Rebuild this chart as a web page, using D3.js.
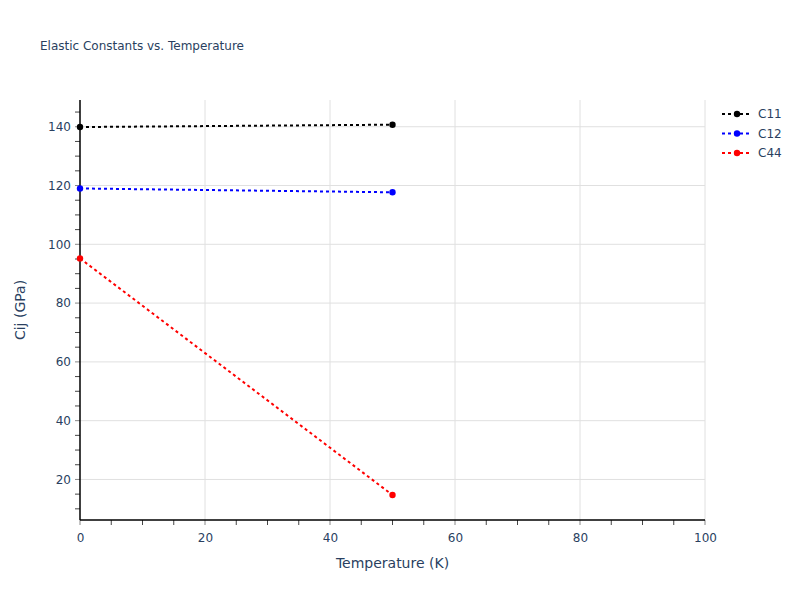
<!DOCTYPE html>
<html><head><meta charset="utf-8">
<script src="https://cdn.jsdelivr.net/npm/d3@7"></script>
<style>body{margin:0;background:#fff;}svg{font-family:"DejaVu Sans",Verdana,sans-serif;}</style>
</head><body><svg id="c" width="800" height="600"></svg>
<script>
const temperatures = [0, 50];
const seriesNames = ["C11", "C12", "C44"];
const c11 = [139.9, 140.7];
const c12 = [119.0, 117.7];
const c44 = [95.2, 14.7];
const seriesColors = ["#000000", "#0000ff", "#ff0000"];
const xTicks = [0, 20, 40, 60, 80, 100];
const yTicks = [20, 40, 60, 80, 100, 120, 140];

const svg = d3.select("#c");
const L = 80, R = 705, T = 100, B = 520;
const x = d3.scaleLinear().domain([0, 100]).range([L, R]);
const y = d3.scaleLinear().domain([6.2, 149.1]).range([B, T]);
const textCol = "#2a3f5f";

// grid
svg.append("g").selectAll("line").data(xTicks.slice(1)).join("line")
  .attr("x1", d => x(d)).attr("x2", d => x(d)).attr("y1", T).attr("y2", B)
  .attr("stroke", "#e0e0e0").attr("stroke-width", 1);
svg.append("g").selectAll("line").data(yTicks).join("line")
  .attr("y1", d => y(d)).attr("y2", d => y(d)).attr("x1", L).attr("x2", R)
  .attr("stroke", "#e0e0e0").attr("stroke-width", 1);

// minor ticks
const xMinor = d3.range(0, 100.1, 5);
const yMinor = d3.range(10, 149, 5);
svg.append("g").selectAll("line").data(xMinor).join("line")
  .attr("x1", d => x(d)).attr("x2", d => x(d)).attr("y1", B).attr("y2", B + 5)
  .attr("stroke", d => d % 20 === 0 ? "#888" : "#444").attr("stroke-width", 1);
svg.append("g").selectAll("line").data(yMinor).join("line")
  .attr("y1", d => y(d)).attr("y2", d => y(d)).attr("x1", L - 5).attr("x2", L)
  .attr("stroke", d => d % 20 === 0 ? "#888" : "#444").attr("stroke-width", 1);

// axes
const xAxis = d3.axisBottom(x).tickValues(xTicks).tickSize(0).tickPadding(13);
const gx = svg.append("g").attr("transform", `translate(0,${B})`).call(xAxis);
gx.select(".domain").remove();
gx.selectAll("text").attr("fill", textCol).style("font-size", "12px").style("font-family", "DejaVu Sans");
const yAxis = d3.axisLeft(y).tickValues(yTicks).tickSize(0).tickPadding(9);
const gy = svg.append("g").attr("transform", `translate(${L},0)`).call(yAxis);
gy.select(".domain").remove();
gy.selectAll("text").attr("fill", textCol).style("font-size", "12px").style("font-family", "DejaVu Sans");

svg.append("line").attr("x1", L).attr("x2", R).attr("y1", B).attr("y2", B).attr("stroke", "#000").attr("stroke-width", 1.5);
svg.append("line").attr("x1", L).attr("x2", L).attr("y1", T).attr("y2", B).attr("stroke", "#000").attr("stroke-width", 1.5);

// series
const allSeries = [c11, c12, c44];
const line = d3.line().x((d, i) => x(temperatures[i])).y(d => y(d));
allSeries.forEach((vals, k) => {
  svg.append("path").datum(vals).attr("d", line).attr("fill", "none")
    .attr("stroke", seriesColors[k]).attr("stroke-width", 2).attr("stroke-dasharray", "3,3");
  svg.append("g").selectAll("circle").data(vals).join("circle")
    .attr("cx", (d, i) => x(temperatures[i])).attr("cy", d => y(d)).attr("r", 3.2)
    .attr("fill", seriesColors[k]);
});

// title
svg.append("text").attr("x", 40).attr("y", 50).text("Elastic Constants vs. Temperature")
  .attr("fill", textCol).style("font-size", "12px");
svg.append("text").attr("x", (L + R) / 2).attr("y", 568).attr("text-anchor", "middle")
  .text("Temperature (K)").attr("fill", textCol).style("font-size", "14px");
svg.append("text").attr("transform", `translate(25,${(T + B) / 2}) rotate(-90)`).attr("text-anchor", "middle")
  .text("Cij (GPa)").attr("fill", textCol).style("font-size", "14px");

// legend
seriesNames.forEach((n, k) => {
  const ly = 114 + k * 19.5;
  svg.append("line").attr("x1", 722).attr("x2", 752).attr("y1", ly).attr("y2", ly)
    .attr("stroke", seriesColors[k]).attr("stroke-width", 2).attr("stroke-dasharray", "3,3");
  svg.append("circle").attr("cx", 737).attr("cy", ly).attr("r", 3.2).attr("fill", seriesColors[k]);
  svg.append("text").attr("x", 758).attr("y", ly + 4).text(n).attr("fill", textCol).style("font-size", "12px");
});
</script></body></html>
